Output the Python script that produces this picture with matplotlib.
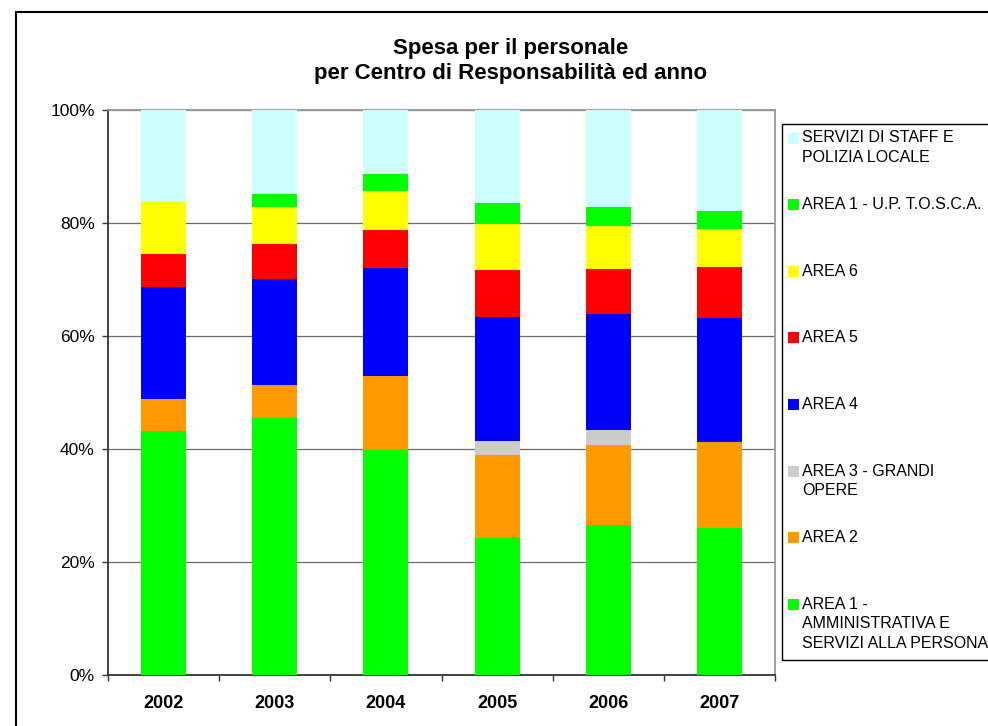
import matplotlib
matplotlib.use("Agg")
import matplotlib.pyplot as plt
import numpy as np
from matplotlib.patches import Rectangle
from matplotlib.ticker import FixedLocator, PercentFormatter

plt.rcParams["font.family"] = ["Liberation Sans", "DejaVu Sans"]

years = ["2002", "2003", "2004", "2005", "2006", "2007"]

# share of the yearly total (%), bottom to top of each bar
area1_amm = [43.1, 45.5, 39.9, 24.3, 26.5, 26.1]
area2 = [5.7, 5.8, 13.0, 14.6, 14.2, 15.1]
area3 = [0.0, 0.0, 0.0, 2.6, 2.6, 0.0]
area4 = [19.9, 18.8, 19.2, 21.8, 20.6, 21.9]
area5 = [5.8, 6.2, 6.7, 8.4, 8.0, 9.1]
area6 = [9.2, 6.6, 6.9, 8.1, 7.6, 6.7]
area1_tosca = [0.0, 2.2, 3.0, 3.7, 3.4, 3.2]
servizi_staff = [16.3, 14.9, 11.3, 16.5, 17.1, 17.9]

series = [
    ("AREA 1 -\nAMMINISTRATIVA E\nSERVIZI ALLA PERSONA", area1_amm, "#00FF00"),
    ("AREA 2", area2, "#FF9900"),
    ("AREA 3 - GRANDI\nOPERE", area3, "#CCCCCC"),
    ("AREA 4", area4, "#0000FF"),
    ("AREA 5", area5, "#FF0000"),
    ("AREA 6", area6, "#FFFF00"),
    ("AREA 1 - U.P. T.O.S.C.A.", area1_tosca, "#00FF00"),
    ("SERVIZI DI STAFF E\nPOLIZIA LOCALE", servizi_staff, "#CCFFFF"),
]

W, H = 988, 726
fig = plt.figure(figsize=(W / 100, H / 100), dpi=100)
ax = fig.add_axes([108 / W, 1 - 675 / H, (775 - 108) / W, (675 - 110) / H])

x = np.arange(len(years))
bottom = np.zeros(len(years))
for label, vals, color in series:
    vals = np.array(vals)
    ax.bar(x, vals, 0.405, bottom=bottom, color=color, linewidth=0, zorder=3)
    bottom += vals

ax.set_xlim(-0.5, len(years) - 0.5)
ax.set_ylim(0, 100)
ax.set_yticks(np.arange(0, 101, 20))
ax.yaxis.set_major_formatter(PercentFormatter(decimals=0))
ax.grid(axis="y", color="#6a6a6a", linewidth=0.9, zorder=1)

ax.set_xticks(x)
ax.set_xticklabels(years, fontsize=13, fontweight="bold")
ax.xaxis.set_minor_locator(FixedLocator(np.arange(-0.5, len(years), 1.0)))
ax.tick_params(axis="x", which="major", length=0, pad=14.5)
ax.tick_params(axis="x", which="minor", length=4, width=1, color="#333333", direction="out")
ax.tick_params(axis="y", length=4.5, width=1, color="#333333", pad=5, labelsize=12.5)

for side in ("left", "bottom"):
    ax.spines[side].set_color("#333333")
    ax.spines[side].set_linewidth(1.3)
for side in ("top", "right"):
    ax.spines[side].set_color("#999999")
    ax.spines[side].set_linewidth(1.3)

fig.text(511 / W, 1 - 61 / H, "Spesa per il personale\nper Centro di Responsabilità ed anno",
         ha="center", va="center", fontsize=16, fontweight="bold", linespacing=1.25)

# legend drawn as in the spreadsheet: evenly spaced entries, swatch on first line
fig.patches.append(Rectangle((782 / W, 1 - 660 / H), 0.3, (660 - 124) / H,
                             transform=fig.transFigure, fill=False,
                             edgecolor="black", linewidth=1))
for i, (label, vals, color) in enumerate(reversed(series)):
    yc = 138 + i * 66.6
    fig.patches.append(Rectangle((788 / W, 1 - (yc + 5.5) / H), 11 / W, 11 / H,
                                 transform=fig.transFigure, facecolor=color,
                                 edgecolor="none"))
    for j, line in enumerate(label.split("\n")):
        fig.text(802 / W, 1 - (yc + j * 19.5) / H, line, ha="left", va="center",
                 fontsize=11.5)

# outer chart border (continues past the right and bottom edges)
fig.patches.append(Rectangle((15.5 / W, -0.05), 1.0, 1.05 - 12 / H,
                             transform=fig.transFigure, fill=False,
                             edgecolor="black", linewidth=1.5))

fig.savefig("out.png", dpi=100)
